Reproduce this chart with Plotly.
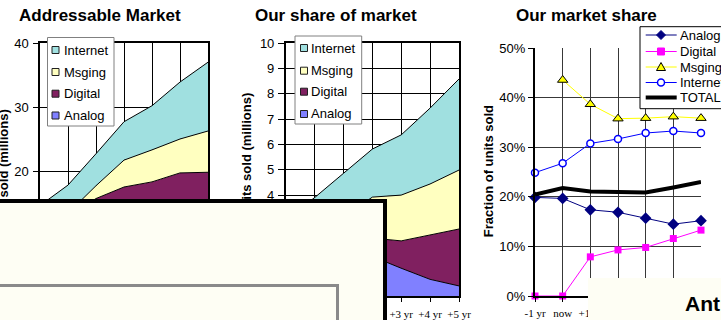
import plotly.graph_objects as go

W, H = 721, 320

periods = ["-1 yr", "now", "+1 yr", "+2 yr", "+3 yr", "+4 yr", "+5 yr"]
segments = ["Analog", "Digital", "Msging", "Internet"]

# Addressable market (millions of units)
market_analog = [11.5, 12.6, 11.7, 9.8, 7.1, 4.6, 2.7]
market_digital = [0.1, 0.4, 4.0, 7.7, 11.2, 15.1, 17.1]
market_msging = [0.0, 0.4, 2.0, 4.2, 5.0, 5.3, 6.45]
market_internet = [3.0, 4.4, 5.0, 6.0, 6.9, 8.9, 10.75]

# Our units sold (millions)
ours_analog = [2.29, 2.48, 2.04, 1.56, 1.11, 0.67, 0.41]
ours_digital = [0.0, 0.0, 0.32, 0.74, 1.08, 1.76, 2.25]
ours_msging = [0.0, 0.17, 0.77, 1.62, 1.81, 2.01, 2.33]
ours_internet = [0.75, 1.25, 1.73, 1.90, 2.38, 3.00, 3.60]

# Our fraction of units sold
share_analog = [0.199, 0.197, 0.174, 0.169, 0.157, 0.145, 0.152]
share_digital = [0.0, 0.0, 0.079, 0.093, 0.098, 0.116, 0.133]
share_msging = [None, 0.436, 0.387, 0.358, 0.359, 0.362, 0.359]
share_internet = [0.249, 0.268, 0.308, 0.317, 0.329, 0.333, 0.329]
share_total = [0.205, 0.218, 0.211, 0.209, 0.209, 0.219, 0.230]

titles = ["Addressable Market", "Our share of market", "Our market share"]
units_title = "Units sold (millions)"
share_title = "Fraction of units sold"
share_legend = ["Analog", "Digital", "Msging", "Internet", "TOTAL"]
footer_text = "Ant"

SANS = "Liberation Sans, Arial, sans-serif"
SERIF = "Liberation Serif, Times New Roman, serif"
AREA_COLORS = {"Analog": "#8080ff", "Digital": "#802060",
               "Msging": "#ffffc0", "Internet": "#a0e0e0"}
IVORY = "#fefef4"


def px(x):
    return x / W


def py(y):
    return 1 - y / H


fig = go.Figure()

market = {"Analog": market_analog, "Digital": market_digital,
          "Msging": market_msging, "Internet": market_internet}
ours = {"Analog": ours_analog, "Digital": ours_digital,
        "Msging": ours_msging, "Internet": ours_internet}

for data, xa, ya, grp in [(market, "x", "y", "m"), (ours, "x2", "y2", "o")]:
    for seg in segments:
        fig.add_trace(go.Scatter(
            x=periods, y=data[seg], xaxis=xa, yaxis=ya, stackgroup=grp,
            mode="lines", line=dict(color="black", width=1),
            fillcolor=AREA_COLORS[seg], name=seg, showlegend=False,
            hoverinfo="skip"))

share_styles = [
    (share_analog, "#000080", 1, dict(symbol="diamond", size=9, color="#000080")),
    (share_digital, "#ff00ff", 1, dict(symbol="square", size=7, color="#ff00ff")),
    (share_msging, "#ffff00", 1, dict(symbol="triangle-up", size=9, color="#ffff00",
                                      line=dict(color="black", width=1))),
    (share_internet, "#0000ff", 1, dict(symbol="circle", size=7, color="white",
                                        line=dict(color="#0000ff", width=1.5))),
    (share_total, "black", 4, None),
]
for (vals, col, lw, mk), name in zip(share_styles, share_legend):
    fig.add_trace(go.Scatter(
        x=periods, y=vals, xaxis="x3", yaxis="y3",
        mode="lines+markers" if mk else "lines",
        line=dict(color=col, width=lw), marker=mk, name=name,
        showlegend=False, cliponaxis=False, connectgaps=False))

tick_font = dict(family=SANS, size=13, color="black")
cat_font = dict(family=SERIF, size=11, color="black")

common_x = dict(type="category", range=[0, 6], showgrid=True, gridwidth=1,
                tickfont=cat_font, showline=True, linecolor="black",
                zeroline=False, fixedrange=True, automargin=False)
common_y = dict(showgrid=True, gridwidth=1, tickfont=tick_font,
                showline=True, linecolor="black", zeroline=False,
                ticks="outside", tickcolor="black", fixedrange=True,
                automargin=False)

# the footer panel covers the later share-chart labels; leave those blank
share_ticktext = [p if i < 3 else "" for i, p in enumerate(periods)]

fig.update_layout(
    template="none",
    width=W, height=H, margin=dict(l=0, r=0, t=0, b=0, pad=0),
    paper_bgcolor="white", plot_bgcolor="white", showlegend=False,
    xaxis=dict(common_x, domain=[px(40), px(208)], anchor="y",
               gridcolor="black", linewidth=1.5, mirror=True,
               ticks="outside", ticklen=3, tickcolor="black",
               ticklabelstandoff=0),
    yaxis=dict(common_y, domain=[py(299), py(43)], anchor="x", range=[0, 40],
               dtick=10, gridcolor="black", linewidth=1.5, mirror=True,
               ticklen=5, ticklabelstandoff=2),
    xaxis2=dict(common_x, domain=[px(285.7), px(459)], anchor="y2",
                gridcolor="black", linewidth=1.5, mirror=True,
                ticks="outside", ticklen=4, tickcolor="black",
                ticklabelstandoff=3),
    yaxis2=dict(common_y, domain=[py(296.3), py(43.3)], anchor="x2",
                range=[0, 10], dtick=1, gridcolor="black", linewidth=1.5,
                mirror=True, ticklen=6, ticklabelstandoff=1),
    xaxis3=dict(common_x, domain=[px(535), px(701)], anchor="y3",
                gridcolor="#383838", linewidth=1.5, ticks="outside",
                ticklen=4, tickcolor="black", ticklabelstandoff=2,
                tickmode="array", tickvals=periods, ticktext=share_ticktext),
    yaxis3=dict(common_y, domain=[py(296), py(48.3)], anchor="x3",
                range=[0, 0.5], dtick=0.1, tickformat=".0%",
                gridcolor="#383838", linewidth=2, ticklen=5),
)

shapes = []
annotations = []


def text(x, y, s, size=13, bold=False, anchor="left", angle=0, width=None):
    ann = dict(
        x=px(x), y=py(y), xref="paper", yref="paper", showarrow=False,
        text=f"<b>{s}</b>" if bold else s, xanchor=anchor, yanchor="middle",
        textangle=angle, borderpad=0, borderwidth=0, align="left",
        font=dict(family=SANS, size=size, color="black"))
    if width is not None:
        ann["width"] = width
    annotations.append(ann)


def rect(x0, y0, x1, y1, fill, line="black", lw=1):
    shapes.append(dict(type="rect", xref="paper", yref="paper",
                       x0=px(x0), x1=px(x1), y0=py(y1), y1=py(y0),
                       fillcolor=fill, line=dict(color=line, width=lw),
                       layer="above"))


def seg_line(x0, y0, x1, y1, color, lw):
    shapes.append(dict(type="line", xref="paper", yref="paper",
                       x0=px(x0), x1=px(x1), y0=py(y0), y1=py(y1),
                       line=dict(color=color, width=lw), layer="above"))


# Titles and axis titles
text(99.5, 15.5, titles[0], 17, True, "center")
text(336, 15, titles[1], 17, True, "center")
text(586, 15, titles[2], 17, True, "center")
text(2.5, 172, units_title, 13, True, "center", -90)
text(246, 155, units_title, 13, True, "center", -90)
text(488.5, 171.7, share_title, 13, True, "center", -90)

# Area-chart legends (top entry = top of the stack)
for (bx0, by0, bx1, by1, sx, tx, ys) in [
        (47.5, 37.5, 114, 126, 55.5, 63.5, [50, 72, 93.7, 115.5]),
        (295, 36, 361.7, 124, 304, 310.7, [48, 70.7, 91.7, 114])]:
    rect(bx0, by0, bx1, by1, "white", "#808080", 1)
    for seg, yy in zip(reversed(segments), ys):
        rect(sx - 3.5, yy - 3.5, sx + 3.5, yy + 3.5, AREA_COLORS[seg], "#202020", 1)
        text(tx, yy, seg)

# Line-chart legend, running into the right edge of the page
rect(640, 26.7, W, 108.7, "white", "white", 0)
seg_line(640, 26.7, W, 26.7, "black", 1)
seg_line(640, 108.7, W, 108.7, "black", 1)
seg_line(640, 26.7, 640, 108.7, "black", 1)
leg_y = [35, 51.5, 67, 82.5, 97.5]
for (vals, col, lw, mk), name, yy in zip(share_styles, share_legend, leg_y):
    seg_line(645.7, yy, 676.7, yy, col, lw)
    text(680, yy, name, width=W - 680)
cx = 661
r = 4.5
d = leg_y[0]
shapes.append(dict(type="path", xref="paper", yref="paper", layer="above",
                   path=f"M{px(cx)},{py(d - r)} L{px(cx + r)},{py(d)} "
                        f"L{px(cx)},{py(d + r)} L{px(cx - r)},{py(d)} Z",
                   fillcolor="#000080", line=dict(color="#000080", width=1)))
d = leg_y[1]
rect(cx - 3.5, d - 3.5, cx + 3.5, d + 3.5, "#ff00ff", "#ff00ff", 1)
d = leg_y[2]
shapes.append(dict(type="path", xref="paper", yref="paper", layer="above",
                   path=f"M{px(cx)},{py(d - 4.5)} L{px(cx + 4.5)},{py(d + 3.5)} "
                        f"L{px(cx - 4.5)},{py(d + 3.5)} Z",
                   fillcolor="#ffff00", line=dict(color="black", width=1)))
d = leg_y[3]
shapes.append(dict(type="circle", xref="paper", yref="paper", layer="above",
                   x0=px(cx - 3.5), x1=px(cx + 3.5), y0=py(d + 3.5), y1=py(d - 3.5),
                   fillcolor="white", line=dict(color="#0000ff", width=1.5)))

# Panel over the lower right corner of the share chart
rect(588, 278, W, H, IVORY, IVORY, 0)


def box(x0, y0, x1, y1, fill):
    annotations.append(dict(
        x=px(x0), y=py(y0), xref="paper", yref="paper", showarrow=False,
        text=" ", xanchor="left", yanchor="top", font=dict(size=1),
        width=x1 - x0, height=y1 - y0, bgcolor=fill,
        borderwidth=0, borderpad=0))


# Panels lying over the lower part of the unit charts
box(0, 199, 386, H, IVORY)
box(0, 199, 386, 202.5, "black")
box(382.5, 199, 386, H, "black")
box(0, 284, 338.5, H, IVORY)
box(0, 284, 338.5, 286.5, "#8a8a8a")
box(336, 284, 338.5, H, "#8a8a8a")
text(685, 303, footer_text, 21, True, "left", width=W - 685)

fig.update_layout(shapes=shapes, annotations=annotations)
fig.write_html("out.html")
